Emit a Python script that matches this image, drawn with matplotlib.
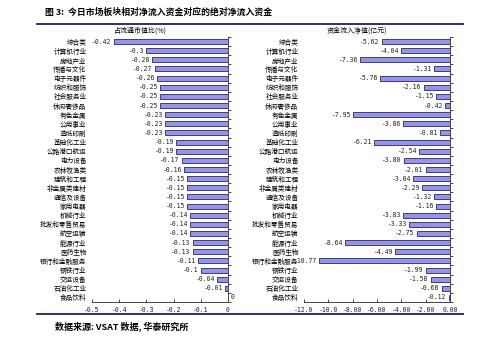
import matplotlib.pyplot as plt
import numpy as np
from matplotlib.lines import Line2D

plt.rcParams['font.family'] = ['Noto Sans CJK SC', 'DejaVu Sans']

# sectors, top to bottom
sectors = ['综合类', '计算机行业', '房地产业', '传播与文化', '电子元器件', '纺织和服饰',
           '社会服务业', '休闲奢侈品', '有色金属', '公用事业', '造纸印刷', '基础化工业',
           '公路港口航运', '电力设备', '农林牧渔类', '建筑和工程', '非金属类建材',
           '通信及设备', '家用电器', '机械行业', '批发和零售贸易', '航空运输', '能源行业',
           '医药生物', '银行和金融服务', '钢铁行业', '交运设备', '石油化工业', '食品饮料']

# share of free-float market value (%)
ratio_pct = [-0.42, -0.3, -0.28, -0.27, -0.26, -0.25, -0.25, -0.25, -0.23, -0.23,
             -0.23, -0.19, -0.19, -0.17, -0.16, -0.15, -0.15, -0.15, -0.15, -0.14,
             -0.14, -0.14, -0.13, -0.13, -0.11, -0.1, -0.04, -0.01, 0.0]

# net inflow (100 million yuan)
net_inflow = [-5.62, -4.04, -7.36, -1.31, -5.76, -2.16, -1.15, -0.42, -7.95, -3.86,
              -0.81, -6.21, -2.54, -3.80, -2.01, -3.04, -2.29, -1.32, -1.16, -3.83,
              -3.33, -2.75, -8.64, -4.49, -10.77, -1.99, -1.58, -0.68, -0.12]

left_ticks = [-0.5, -0.4, -0.3, -0.2, -0.1, 0]
left_ticklabels = ['-0.5', '-0.4', '-0.3', '-0.2', '-0.1', '0']
right_ticks = [-12, -10, -8, -6, -4, -2, 0]
right_ticklabels = ['-12.0', '-10.0', '-8.00', '-6.00', '-4.00', '-2.00', '0.00']

BAR = '#9494ec'
EDGE = '#26266a'
NAVY = '#1c1c78'
NUMFONT = 'DejaVu Sans Mono'
W, H = 500, 340


def draw_panel(ax, values, xlim, ticks, ticklabels, fmt):
    n = len(sectors)
    y = np.arange(n)
    ax.barh(y, values, height=0.55, color=BAR, edgecolor=EDGE, linewidth=0.6)
    ax.set_xlim(xlim)
    ax.set_ylim(n - 0.5, -0.5)
    ax.set_yticks(y)
    ax.set_yticklabels(sectors, fontsize=4.8)
    ax.set_yticks(np.arange(n + 1) - 0.5, minor=True)
    ax.tick_params(axis='y', which='major', length=0, pad=4)
    ax.tick_params(axis='y', which='minor', left=False, right=True,
                   length=2, width=0.5, direction='out')
    ax.set_xticks(ticks)
    ax.set_xticklabels(ticklabels, family=NUMFONT, fontsize=4.7, color='#222222')
    ax.tick_params(axis='x', length=2, width=0.5, direction='in', pad=3.5)
    for s in ['top', 'left']:
        ax.spines[s].set_visible(False)
    for s in ['right', 'bottom']:
        ax.spines[s].set_linewidth(0.7)
        ax.spines[s].set_color('#444444')
    for yi, v in zip(y, values):
        if v < 0:
            ax.annotate(fmt(v), (v, yi), xytext=(-1.5, 0), textcoords='offset points',
                        ha='right', va='center', fontsize=4.7, family=NUMFONT,
                        color='#222222')
        else:
            ax.annotate(fmt(v), (v, yi), xytext=(2, 0), textcoords='offset points',
                        ha='left', va='center', fontsize=4.7, family=NUMFONT,
                        color='#222222')


fig = plt.figure(figsize=(5, 3.4), dpi=100)

ax1 = fig.add_axes([92 / W, 1 - 302 / H, 136 / W, 265 / H])
draw_panel(ax1, ratio_pct, (-0.5, 0), left_ticks, left_ticklabels, lambda v: '%g' % v)

ax2 = fig.add_axes([304 / W, 1 - 302 / H, 146 / W, 265 / H])
draw_panel(ax2, net_inflow, (-12, 0), right_ticks, right_ticklabels, lambda v: '%.2f' % v)

fig.text(140 / W, 1 - 31 / H, '占流通市值比(%)', ha='center', va='center', fontsize=5)
fig.text(357 / W, 1 - 31 / H, '资金流入净值(亿元)', ha='center', va='center', fontsize=5)

fig.text(45 / W, 1 - 12 / H, '图 3:  今日市场板块相对净流入资金对应的绝对净流入资金',
         ha='left', va='center', fontsize=6.4, fontweight='bold')
fig.text(55 / W, 1 - 327 / H, '数据来源: VSAT 数据, 华泰研究所',
         ha='left', va='center', fontsize=6.5, fontweight='bold')

fig.add_artist(Line2D([37 / W, 463 / W], [1 - 24 / H] * 2, transform=fig.transFigure,
                      color=NAVY, linewidth=1.3))
fig.add_artist(Line2D([37 / W, 463 / W], [1 - 314 / H] * 2, transform=fig.transFigure,
                      color=NAVY, linewidth=1.3))

fig.savefig('out.png', dpi=100)
